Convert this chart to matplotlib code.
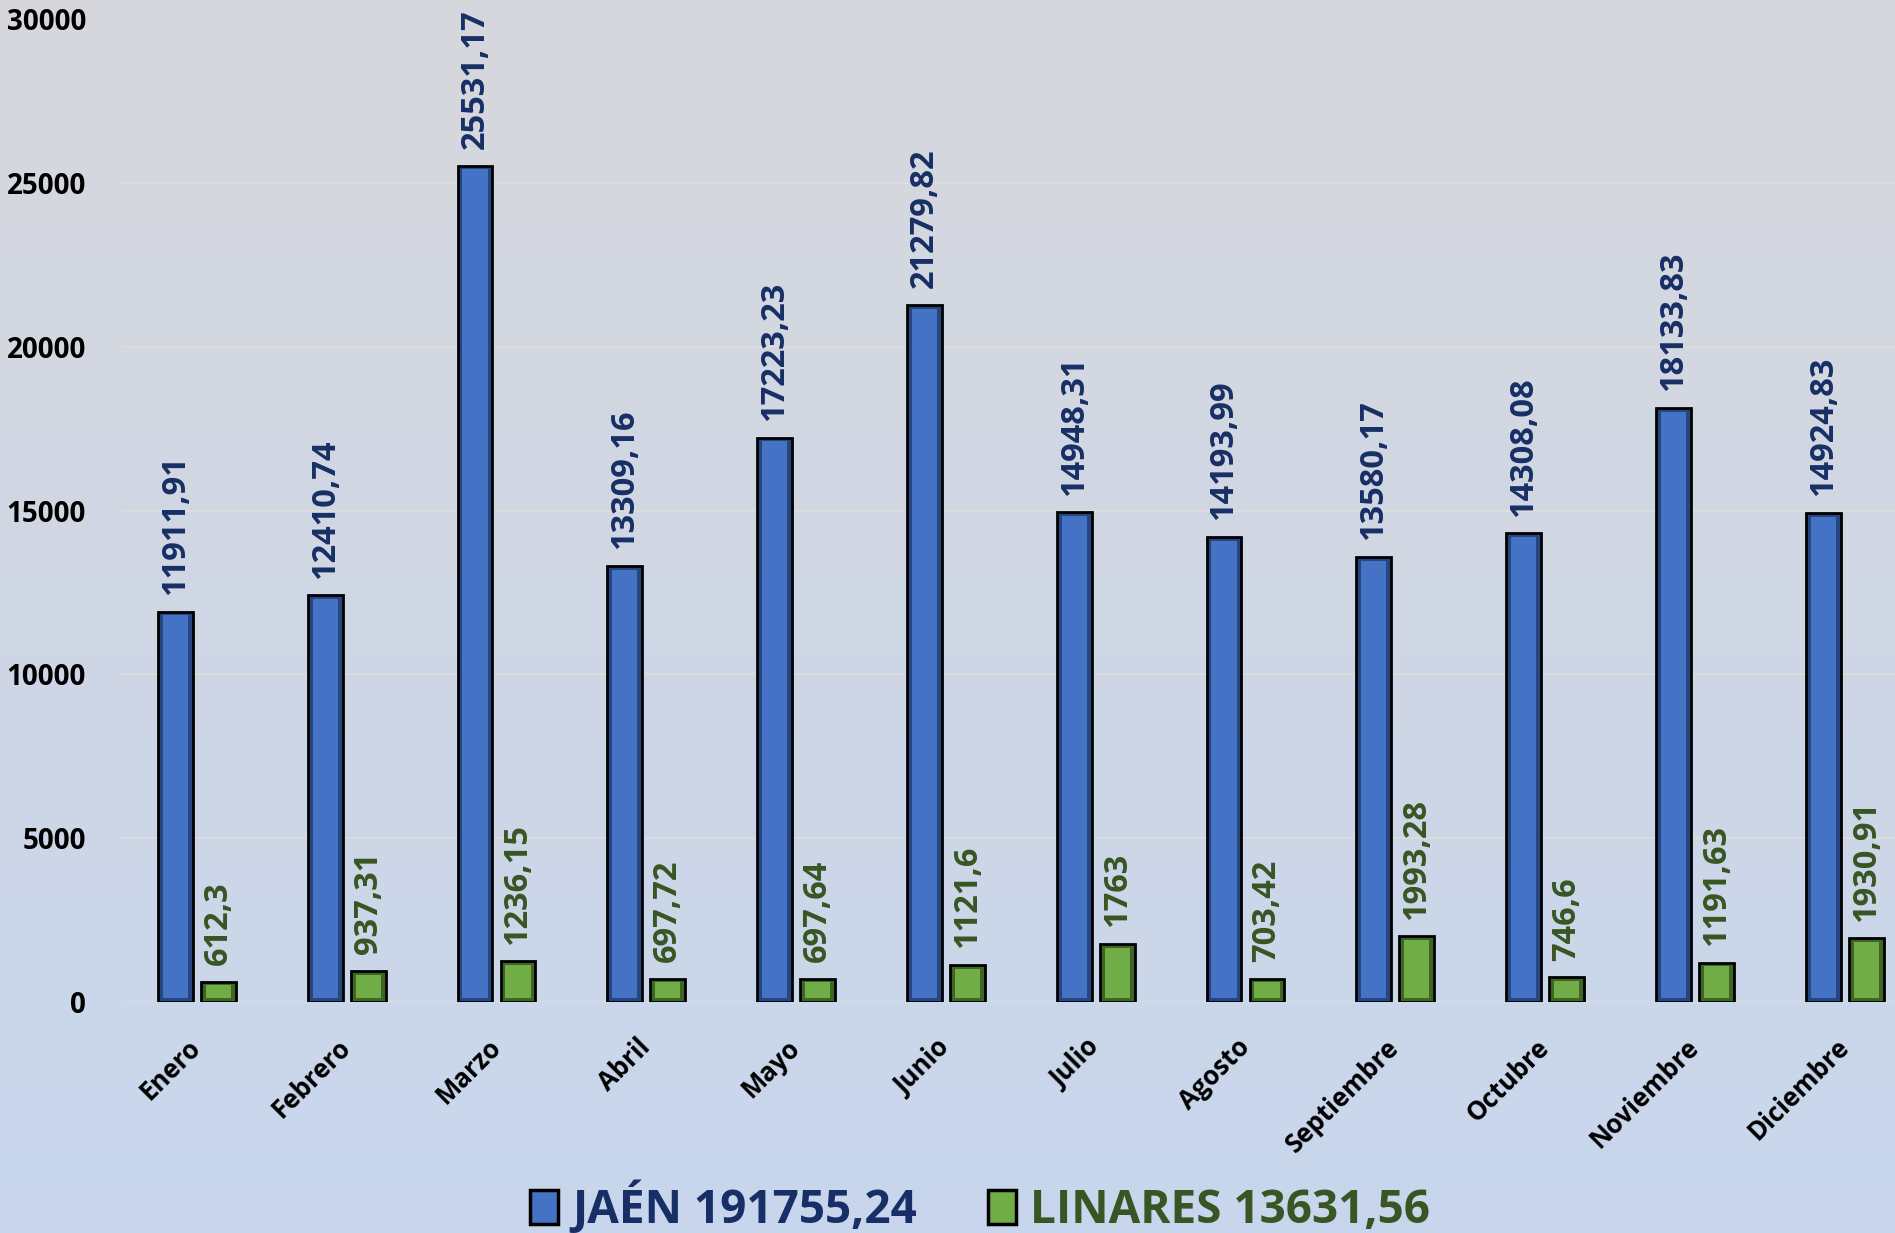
import numpy as np
import matplotlib
matplotlib.use("Agg")
import matplotlib.pyplot as plt
from matplotlib.patches import Rectangle

meses = ['Enero', 'Febrero', 'Marzo', 'Abril', 'Mayo', 'Junio', 'Julio',
         'Agosto', 'Septiembre', 'Octubre', 'Noviembre', 'Diciembre']
jaen = [11911.91, 12410.74, 25531.17, 13309.16, 17223.23, 21279.82,
        14948.31, 14193.99, 13580.17, 14308.08, 18133.83, 14924.83]
linares = [612.3, 937.31, 1236.15, 697.72, 697.64, 1121.6,
           1763, 703.42, 1993.28, 746.6, 1191.63, 1930.91]
leyenda = ['JAÉN 191755,24', 'LINARES 13631,56']

plt.rcParams['font.family'] = ['Open Sans', 'DejaVu Sans']
plt.rcParams['font.weight'] = 'bold'

azul, azul_osc, azul_txt = '#4472C4', '#27467F', '#172F66'
verde, verde_osc, verde_txt = '#70AD47', '#3F6526', '#375623'

W, H = 1895, 1233
fig = plt.figure(figsize=(W / 100, H / 100), dpi=100)

# fondo degradado
bg = fig.add_axes([0, 0, 1, 1], zorder=-10)
top = np.array([0.843, 0.847, 0.863])
bot = np.array([0.784, 0.839, 0.930])
t = np.linspace(0, 1, 256)[:, None]
grad = top * (1 - t) + bot * t
bg.imshow(grad[:, None, :], aspect='auto', extent=[0, 1, 0, 1])
bg.axis('off')

ax = fig.add_axes([122 / W, 231.3 / H, 1797.6 / W, 982.2 / H])
ax.patch.set_alpha(0)
x = np.arange(len(meses))
bw = 0.233
off = 0.1435
ax.set_xlim(-0.5, len(meses) - 0.5)
ax.set_ylim(0, 30000)
bev_y = 110

for vals, dx, face, dark in [(jaen, -off, azul, azul_osc),
                             (linares, off, verde, verde_osc)]:
    vals = np.array(vals)
    ax.bar(x + dx, vals, bw, color=dark, edgecolor='black', lw=2, zorder=3)
    ax.bar(x + dx, vals - 2 * bev_y, bw * 0.72, bottom=bev_y, color=face,
           lw=0, zorder=4)


def fmt(v):
    return f"{v:.2f}".replace('.', ',').rstrip('0').rstrip(',')


for i in range(len(meses)):
    ax.annotate(fmt(jaen[i]), (x[i] - off, jaen[i]), xytext=(0, 12),
                textcoords='offset points', rotation=90, ha='center',
                va='bottom', fontsize=23.5, color=azul_txt, fontweight='bold')
    ax.annotate(fmt(linares[i]), (x[i] + off, linares[i]), xytext=(0, 12),
                textcoords='offset points', rotation=90, ha='center',
                va='bottom', fontsize=23.5, color=verde_txt, fontweight='bold')

ax.set_yticks(np.arange(0, 30001, 5000))
ax.set_yticklabels([str(v) for v in range(0, 30001, 5000)], fontsize=20)
ax.set_xticks(x)
ax.set_xticklabels(meses, rotation=45, ha='right', va='center',
                   rotation_mode='anchor', fontsize=18.5)
ax.tick_params(axis='both', length=0)
ax.tick_params(axis='y', pad=26)
ax.tick_params(axis='x', pad=30)
ax.grid(axis='y', color='#DCDCDC', lw=1.5, zorder=0)
for s in ax.spines.values():
    s.set_visible(False)

handles = [Rectangle((0, 0), 1, 1, facecolor=azul, edgecolor='black', lw=2.5),
           Rectangle((0, 0), 1, 1, facecolor=verde, edgecolor='black', lw=2.5)]
fig.legend(handles, leyenda, loc='center', bbox_to_anchor=(980 / W, 26 / H),
           ncol=2, frameon=False, handlelength=0.62, handleheight=0.75,
           handletextpad=0.3, columnspacing=1.55,
           labelcolor=[azul_txt, verde_txt], prop={'weight': 'bold', 'size': 33})

fig.savefig('out.png', dpi=100)
